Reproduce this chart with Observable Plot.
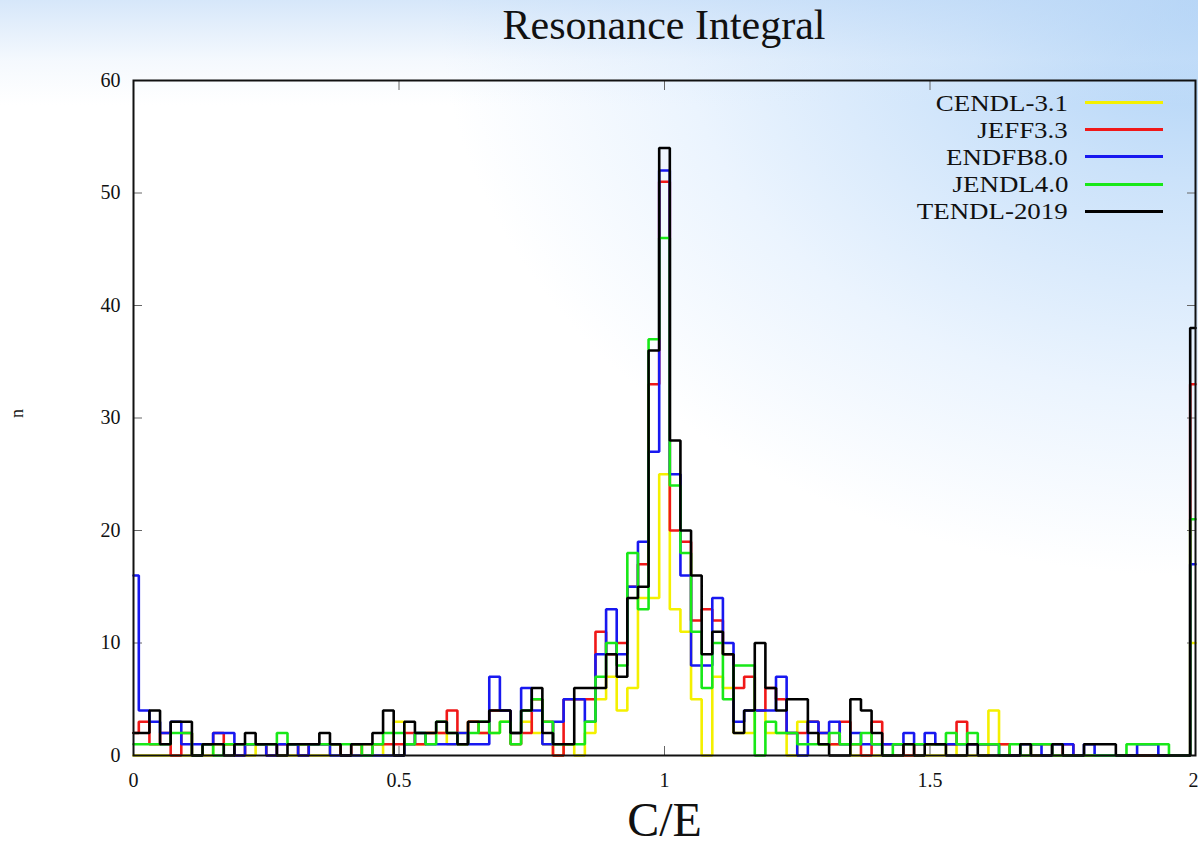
<!DOCTYPE html>
<html>
<head>
<meta charset="utf-8">
<script src="https://cdn.jsdelivr.net/npm/d3@7"></script>
<script src="https://cdn.jsdelivr.net/npm/@observablehq/plot@0.6"></script>
<style>
html, body { margin: 0; padding: 0; width: 1198px; height: 846px; overflow: hidden; }
body {
  position: relative;
  font-family: "Liberation Serif", "DejaVu Serif", serif;
  background:
    linear-gradient(180deg, rgba(192,218,247,0.65) 0px, rgba(220,234,250,0.3) 60px, rgba(255,255,255,0) 105px),
    radial-gradient(ellipse 950px 720px at 100% 0%, #a9cff6 0%, #cbe2fa 25%, #ebf4fe 55%, #ffffff 80%);
}
#title { height: 60px; box-sizing: border-box; padding: 4px 3px 0 133px; text-align: center;
  font-size: 42px; line-height: 1; color: #111; }
#legend { position: absolute; left: 760px; width: 403px; top: 89px; }
#legend .row { height: 27.2px; display: flex; align-items: center; justify-content: flex-end; }
#legend .lab { font-size: 24px; color: #111; line-height: 1; display: inline-block;
  transform: scaleX(1.12); transform-origin: right center; }
#legend .sw { width: 78px; height: 3px; margin-left: 17px; }
</style>
</head>
<body>
<div id="title">Resonance Integral</div>
<div id="chart"></div>
<div id="legend"></div>
<script>
// Histogram bins: centres from 0 to 2, bin width 0.02 (101 bins, first/last are half bins)
const binWidth = 0.02;

const seriesNames = ["CENDL-3.1", "JEFF3.3", "ENDFB8.0", "JENDL4.0", "TENDL-2019"];
const seriesColors = ["#f4f000", "#f01818", "#1818f0", "#18e818", "#000000"];

const cendl = [
  0,0,0,0,0,0,0,0,1,1,
  0,0,1,0,0,0,1,0,0,1,
  0,0,1,1,0,3,1,1,2,2,
  1,2,3,2,2,3,2,3,2,1,
  0,1,0,2,5,7,4,6,14,14,
  25,13,11,5,0,7,6,2,2,4,
  2,2,0,3,3,1,1,1,0,0,
  0,0,0,0,0,0,0,1,0,0,
  0,4,1,0,0,0,0,0,0,0,
  0,0,0,0,0,0,0,0,0,0,
  10];
const jeff = [
  2,3,1,2,0,2,0,1,2,1,
  0,1,1,0,1,1,0,1,1,1,
  0,1,0,1,1,1,2,1,2,2,
  4,1,3,2,4,4,1,2,5,3,
  0,5,5,5,11,9,10,15,17,33,
  51,20,19,12,13,12,9,6,7,4,
  6,5,2,2,3,2,1,3,1,0,
  3,1,1,0,1,1,1,1,3,1,
  1,1,1,0,0,1,1,0,1,0,
  0,0,0,0,0,0,0,0,0,0,
  33];
const endfb = [
  16,4,3,2,3,1,1,1,2,2,
  0,1,1,0,1,1,0,1,1,0,
  0,0,0,0,0,0,1,2,1,1,
  1,2,1,1,7,4,2,6,4,1,
  3,5,5,3,9,13,9,15,19,27,
  52,25,16,8,8,14,10,3,4,4,
  4,7,2,0,3,2,3,1,2,1,
  1,1,1,2,1,2,1,1,1,1,
  1,1,0,0,1,1,0,1,1,0,
  1,0,0,0,0,1,1,0,0,0,
  17];
const jendl = [
  1,1,1,1,2,2,0,1,0,1,
  1,1,1,1,2,1,1,1,1,1,
  1,1,0,1,2,2,1,2,1,3,
  2,1,2,3,2,3,1,4,5,3,
  1,1,1,3,7,10,8,18,13,37,
  46,24,18,11,6,10,5,8,8,0,
  3,2,2,1,1,1,2,1,1,2,
  1,0,1,1,1,1,1,2,1,2,
  1,1,0,1,0,1,1,0,0,0,
  0,0,0,0,1,1,1,1,0,0,
  21];
const tendl = [
  2,2,4,1,3,3,0,1,1,0,
  1,2,1,1,0,1,1,1,2,1,
  0,1,1,2,4,0,3,2,2,3,
  2,1,3,3,4,4,2,4,6,2,
  1,1,6,6,6,9,7,14,15,36,
  54,28,20,16,9,11,9,2,4,10,
  6,4,5,5,2,1,0,0,5,4,
  2,0,0,1,0,1,1,0,0,1,
  0,0,0,0,1,0,0,1,0,0,
  1,1,1,0,0,0,0,0,0,0,
  38];

const xTicks = [0, 0.5, 1, 1.5, 2];
const xTickLabels = ["0", "0.5", "1", "1.5", "2"];
const yTicks = [0, 10, 20, 30, 40, 50, 60];
const yTickLabels = ["0", "10", "20", "30", "40", "50", "60"];

const seriesValues = [cendl, jeff, endfb, jendl, tendl];
const rows = seriesNames.flatMap((name, s) =>
  seriesValues[s].map((n, i) => ({series: name, x: i * binWidth, n})));

const innerXTicks = xTicks.slice(0, -1);
const lastXTick = xTicks.slice(-1);

const chart = Plot.plot({
  width: 1198,
  height: 786,
  marginTop: 20,
  marginBottom: 91,
  marginLeft: 133,
  marginRight: 3,
  style: {background: "transparent", overflow: "visible", fontFamily: "Liberation Serif", fontSize: "20px", color: "#111"},
  x: {domain: [0, 2]},
  y: {domain: [0, 60]},
  color: {domain: seriesNames, range: seriesColors},
  marks: [
    Plot.axisX(innerXTicks, {anchor: "bottom", tickSize: -9, tickPadding: 26, tickFormat: d => xTickLabels[xTicks.indexOf(d)], label: null, stroke: "#666"}),
    Plot.axisX(lastXTick, {anchor: "bottom", tickSize: -9, tickFormat: () => "", label: null, stroke: "#666"}),
    Plot.text(lastXTick, {x: d => d, frameAnchor: "bottom", dy: 17, dx: 3, lineAnchor: "top", textAnchor: "end", text: d => xTickLabels[xTicks.indexOf(d)], fontSize: 20, fill: "#111"}),
    Plot.axisX(xTicks, {anchor: "top", tickSize: -9, tickFormat: () => "", label: null, stroke: "#666"}),
    Plot.axisY(yTicks, {anchor: "left", tickSize: -9, tickPadding: 22, tickFormat: d => yTickLabels[yTicks.indexOf(d)], label: null, stroke: "#666"}),
    Plot.axisY(yTicks, {anchor: "right", tickSize: -9, tickFormat: () => "", label: null, stroke: "#666"}),
    Plot.line(rows, {x: "x", y: "n", z: "series", stroke: "series", curve: "step", strokeWidth: 2.6, strokeLinejoin: "miter"}),
    Plot.frame({stroke: "#111", strokeWidth: 2}),
    Plot.text(["C/E"], {frameAnchor: "bottom", dy: 80, lineAnchor: "bottom", fontSize: 48, fill: "#111"}),
    Plot.text(["n"], {frameAnchor: "left", dx: -111, rotate: -90, lineAnchor: "bottom", fontSize: 18, fill: "#111"})
  ]
});
document.getElementById("chart").appendChild(chart);

const legend = document.getElementById("legend");
seriesNames.forEach((name, i) => {
  const row = document.createElement("div");
  row.className = "row";
  const lab = document.createElement("span");
  lab.className = "lab";
  lab.textContent = name;
  const sw = document.createElement("span");
  sw.className = "sw";
  sw.style.background = seriesColors[i];
  row.appendChild(lab);
  row.appendChild(sw);
  legend.appendChild(row);
});
</script>
</body>
</html>
